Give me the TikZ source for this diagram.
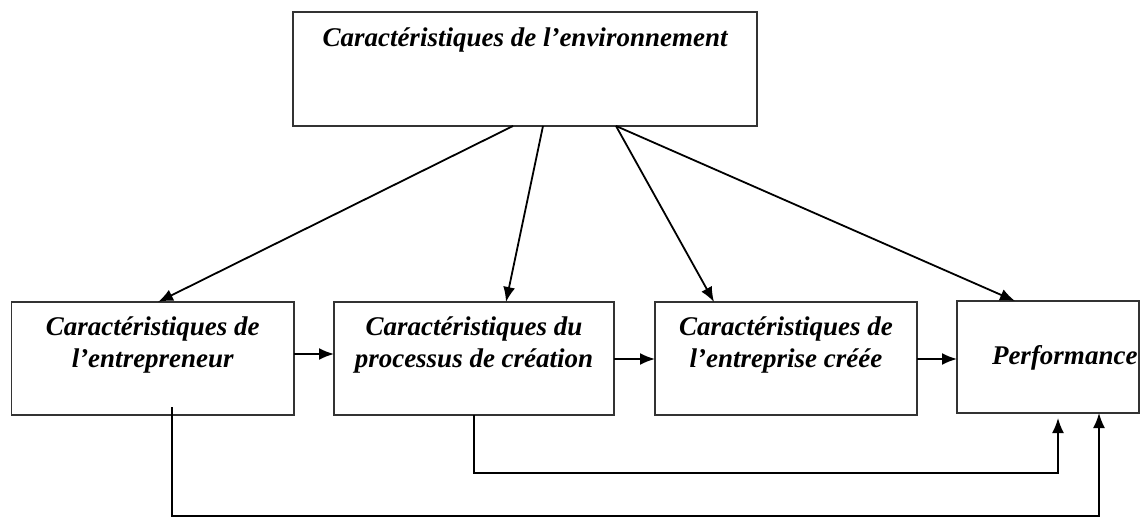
\documentclass[tikz,border=0pt]{standalone}
\usepackage{fontspec}
\setmainfont{Liberation Serif}
\usetikzlibrary{arrows.meta,calc}
\begin{document}
\begin{tikzpicture}[x=1pt,y=-1pt,
  box/.style={draw=black!80,line width=1.8pt,inner sep=0pt,outer sep=0pt},
  lbl/.style={inner sep=0pt,outer sep=0pt,align=center,anchor=base,
    font=\fontsize{27}{32}\selectfont\bfseries\itshape},
  arr/.style={draw=black,line width=1.8pt,-{Latex[length=15pt,width=12pt]}},
  ln/.style={draw=black!85,line width=1.8pt}]
\useasboundingbox (0,0) rectangle (1143,518);
% boxes
\node[box,minimum width=464pt,minimum height=114pt] (env) at (525,69) {};
\node[box,minimum width=282.5pt,minimum height=113pt] (b1) at (152.75,358.5) {};
\node[box,minimum width=280pt,minimum height=113pt] (b2) at (474,358.5) {};
\node[box,minimum width=262pt,minimum height=113pt] (b3) at (786,358.5) {};
\node[box,minimum width=182pt,minimum height=112pt] (b4) at (1048,357) {};
% labels
\node[lbl] (t0) at (525,47) {Caractéristiques de l’environnement};
\node[lbl] (t1) at (152.75,367) {Caractéristiques de\\l’entrepreneur};
\node[lbl] (t2) at (474,367) {Caractéristiques du\\processus de création};
\node[lbl] (t3) at (786,367) {Caractéristiques de\\l’entreprise créée};
\node[lbl,anchor=base west] (t4) at (992,365) {Performance};
% arrows from environment
\draw[arr] (513,0 |- env.south) -- (158,0 |- b1.north);
\draw[arr] (543,0 |- env.south) -- (506,0 |- b2.north);
\draw[arr] (616,0 |- env.south) -- (714,0 |- b3.north);
\draw[arr] (616,0 |- env.south) -- (1015,0 |- b4.north);
% horizontal arrows
\draw[arr] (b1.east |- 0,354) -- (b2.west |- 0,354);
\draw[arr] (b2.east |- 0,359) -- (b3.west |- 0,359);
\draw[arr] (b3.east |- 0,359) -- (b4.west |- 0,359);
% feedback lines
\coordinate (s1) at ($(b1.south)+(19.25,-8)$);
\draw[arr] (s1) |- (1099,516) -- (1099,0 |- b4.south);
\draw[arr] (b2.south) |- (1058,473) -- ($(1058,0 |- b4.south)+(0,5)$);
\end{tikzpicture}
\end{document}
